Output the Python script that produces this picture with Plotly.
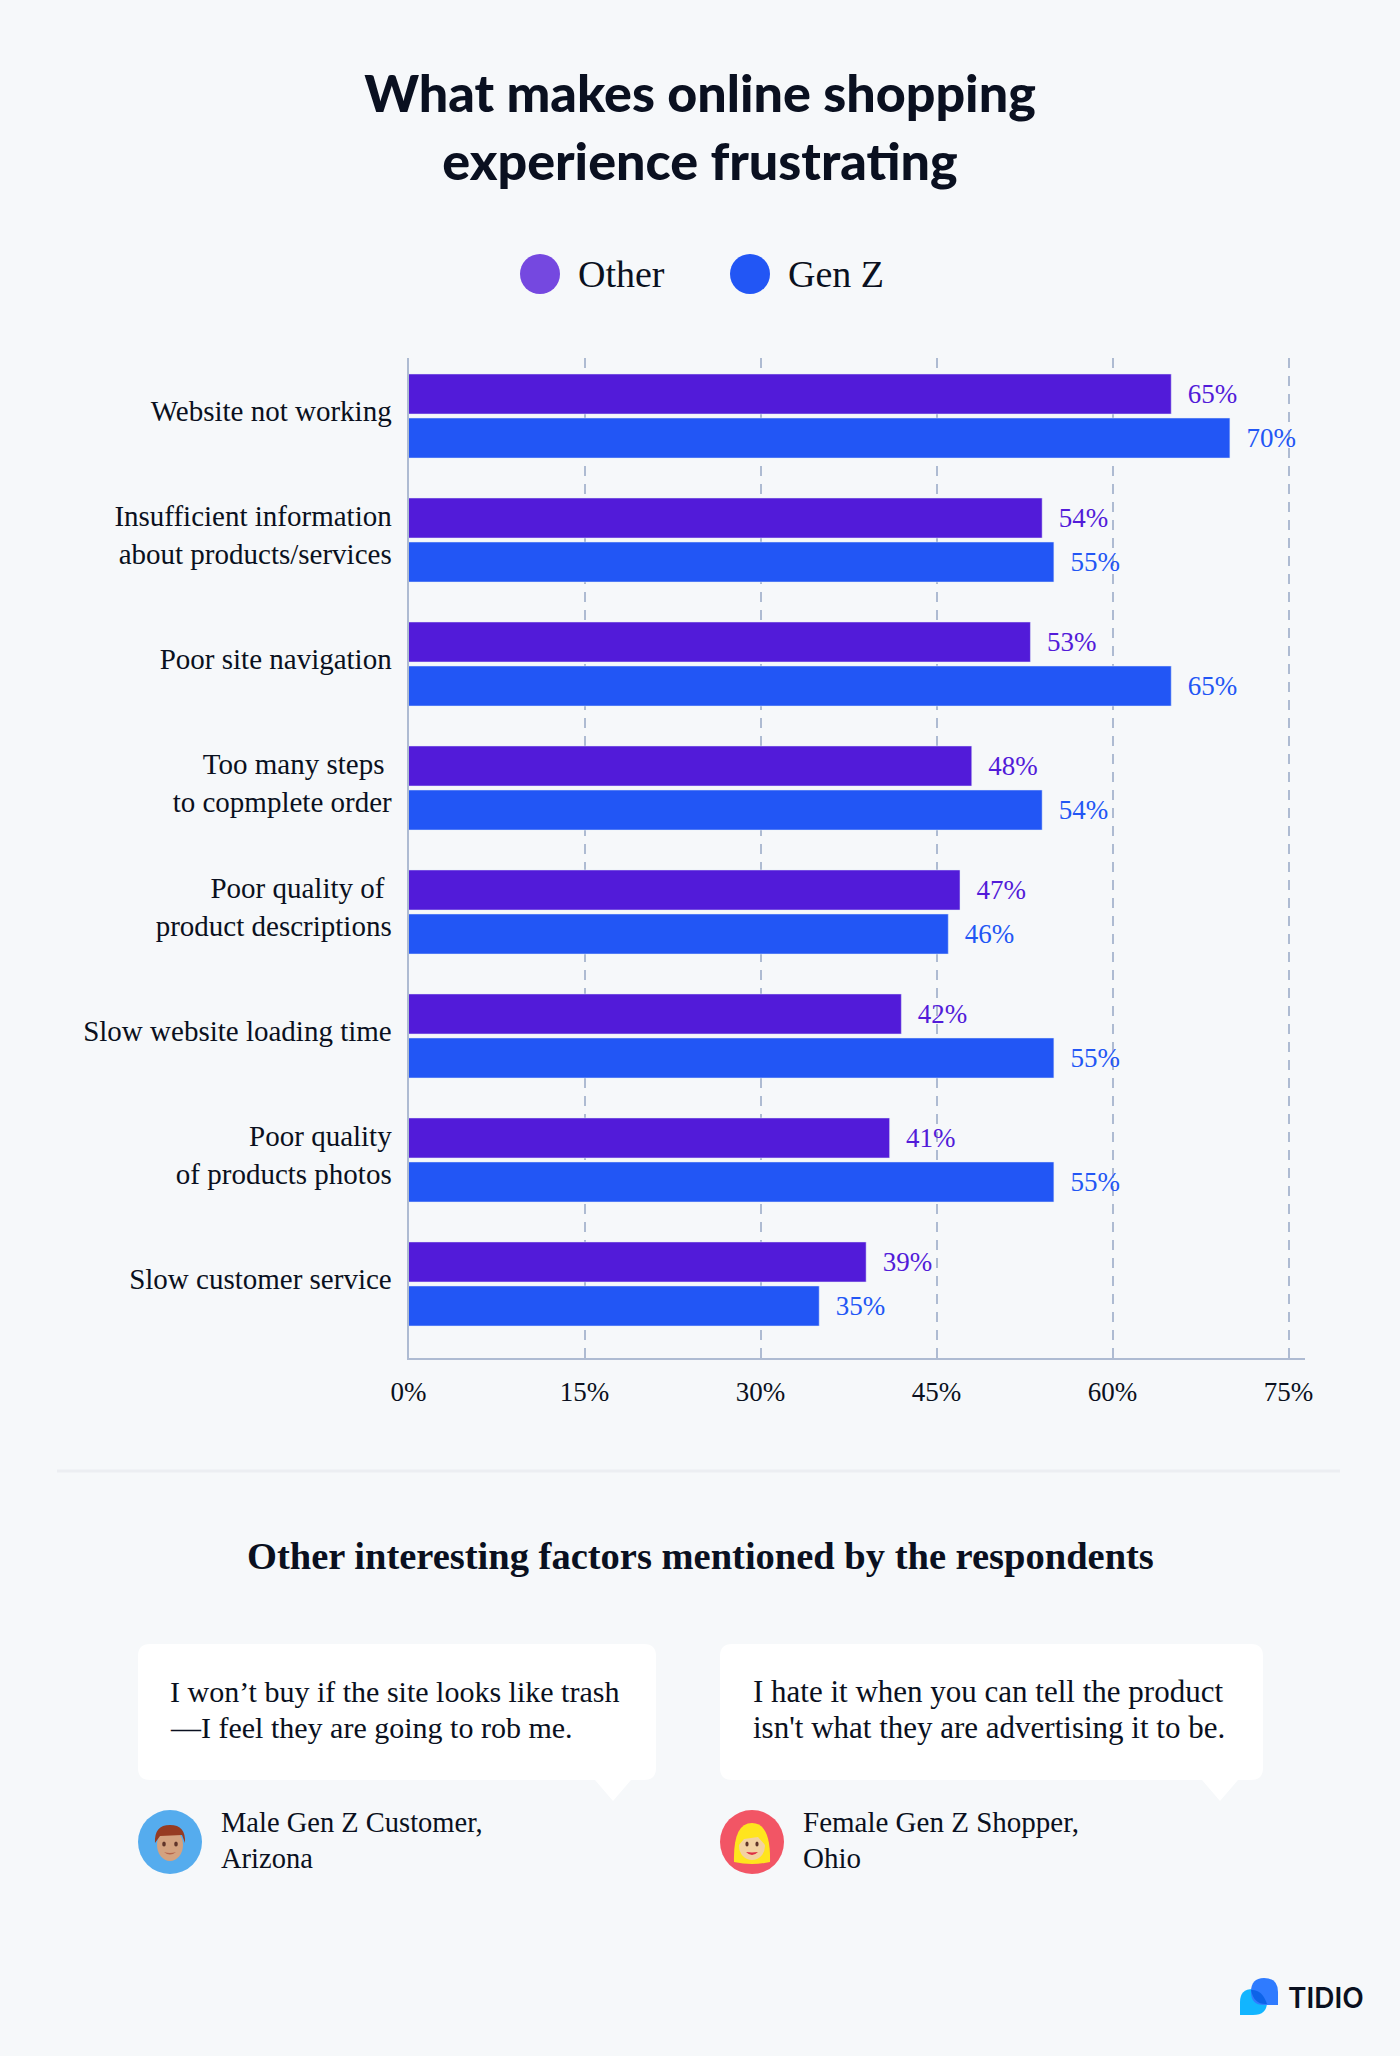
import plotly.graph_objects as go

W = 1400
H = 2056

# chart data
categories = [
    "Website not working",
    "Insufficient information<br>about products/services",
    "Poor site navigation",
    "Too many steps\u00a0<br>to copmplete order",
    "Poor quality of\u00a0<br>product descriptions",
    "Slow website loading time",
    "Poor quality<br>of products photos",
    "Slow customer service",
]
other_values = [65, 54, 53, 48, 47, 42, 41, 39]
genz_values = [70, 55, 65, 54, 46, 55, 55, 35]
x_ticks = [0, 15, 30, 45, 60, 75]
x_tick_labels = ["0%", "15%", "30%", "45%", "60%", "75%"]

BG = "#F6F8FA"
PURPLE = "#521BD9"
BLUE = "#2256F5"
GRID = "#AEBBD2"
INK = "#0A1020"
SERIF = "Liberation Serif"
SANS = "Lato"


def X(px):
    return px / W


def Y(px):
    return 1 - px / H


def path(points):
    # points are pixel pairs or (control, end) for a Q curve
    out = []
    for i, p in enumerate(points):
        if len(p) == 4:
            out.append(f"Q{X(p[0]):.5f},{Y(p[1]):.5f} {X(p[2]):.5f},{Y(p[3]):.5f}")
        else:
            out.append(("M" if i == 0 else "L") + f"{X(p[0]):.5f},{Y(p[1]):.5f}")
    return " ".join(out) + " Z"


def circle(cx, cy, rx, ry, color):
    return dict(type="circle", xref="paper", yref="paper", x0=X(cx - rx), x1=X(cx + rx),
                y0=Y(cy - ry), y1=Y(cy + ry), fillcolor=color, line_width=0)


def shape_path(points, color):
    return dict(type="path", xref="paper", yref="paper", path=path(points), fillcolor=color, line_width=0)


def text(px, py, s, size=28, color=INK, family=SERIF, anchor="left", weight=None):
    return dict(xref="paper", yref="paper", x=X(px), y=Y(py), text=s, showarrow=False,
                xanchor=anchor, yanchor="middle", align=anchor,
                font=dict(family=family, size=size, color=color, weight=weight))


def bubble(x0, x1, tail):
    y0, y1, r = 1644, 1780, 12
    return shape_path([
        (x0 + r, y0), (x1 - r, y0), (x1, y0, x1, y0 + r), (x1, y1 - r), (x1, y1, x1 - r, y1),
        (tail + 18, y1), (tail, 1801), (tail - 18, y1),
        (x0 + r, y1), (x0, y1, x0, y1 - r), (x0, y0 + r), (x0, y0, x0 + r, y0),
    ], "white")


fig = go.Figure()
fig.add_trace(go.Bar(y=categories, x=other_values, orientation="h", name="Other", marker_color=PURPLE,
                     texttemplate="\u00a0\u00a0%{x}%", textposition="outside", cliponaxis=False,
                     textfont=dict(family=SERIF, size=27, color=PURPLE)))
fig.add_trace(go.Bar(y=categories, x=genz_values, orientation="h", name="Gen Z", marker_color=BLUE,
                     texttemplate="\u00a0\u00a0%{x}%", textposition="outside", cliponaxis=False,
                     textfont=dict(family=SERIF, size=27, color=BLUE)))

shapes = [
    circle(540, 274, 20, 20, "#7548E0"),
    circle(750, 274, 20, 20, BLUE),
    dict(type="line", xref="paper", yref="paper", x0=X(57), x1=X(1340), y0=Y(1471), y1=Y(1471),
         line=dict(color="#ECEEF2", width=3)),
    bubble(138, 656, 613),
    bubble(720, 1263, 1220),
    # male avatar
    circle(170, 1842, 32, 32, "#55ACEE"),
    circle(170, 1845, 13, 16, "#D4A27F"),
    shape_path([(155, 1843), (154, 1825, 170, 1825), (186, 1825, 185, 1843), (182, 1835), (160, 1836)], "#963B22"),
    circle(164, 1844, 1.8, 2.5, "#60352A"),
    circle(176, 1844, 1.8, 2.5, "#60352A"),
    shape_path([(164, 1852), (170, 1857, 176, 1852), (170, 1854, 164, 1852)], "#B6654B"),
    # female avatar
    circle(752, 1842, 32, 32, "#F25565"),
    shape_path([(734, 1862), (733, 1823, 752, 1823), (771, 1823, 770, 1862), (752, 1866, 734, 1862)], "#FFE51E"),
    circle(752, 1846, 13, 14, "#F3D2A2"),
    shape_path([(738, 1846), (740, 1830, 752, 1830), (764, 1830, 766, 1846), (758, 1837), (744, 1839)], "#FFE51E"),
    circle(747, 1844, 1.6, 2.5, "#60352A"),
    circle(757, 1844, 1.6, 2.5, "#60352A"),
    shape_path([(746, 1852), (752, 1858, 758, 1852), (752, 1853, 746, 1852)], "#DD2E44"),
    # logo
    shape_path([(1240, 2015), (1240, 2002), (1240, 1989, 1253, 1989), (1267, 1989, 1267, 2002),
                (1267, 2015, 1253, 2015)], "#12B5FF"),
    shape_path([(1278, 2005), (1264, 2005), (1251, 2005, 1251, 1992), (1251, 1978, 1264, 1978),
                (1278, 1978, 1278, 1992)], "#2F7BFF"),
    shape_path([(1251, 1990), (1262, 1989, 1267, 2004), (1254, 2005, 1251, 1990)], "#0D63E8"),
]

annotations = [
    text(576, 274, "Other", size=38),
    text(786, 274, "Gen Z", size=38),
    text(700, 1556, "<b>Other interesting factors mentioned by the respondents</b>", size=38.5, anchor="center"),
    text(168, 1691.5, "I won\u2019t buy if the site looks like trash", size=30),
    text(168, 1727.5, "\u2014I feel they are going to rob me.", size=30),
    text(751, 1691.5, "I hate it when you can tell the product", size=31),
    text(751, 1727.5, "isn't what they are advertising it to be.", size=31),
    text(219, 1822, "Male Gen Z Customer,", size=28.5),
    text(219, 1858, "Arizona", size=28.5),
    text(801, 1822, "Female Gen Z Shopper,", size=29),
    text(801, 1858, "Ohio", size=29),
    text(1286, 1998, "TIDIO", size=28, family="Inter", weight=600),
]

fig.update_layout(
    width=W, height=H, margin=dict(l=0, r=0, t=0, b=0, autoexpand=False),
    paper_bgcolor=BG, plot_bgcolor=BG, showlegend=False,
    barmode="group", bargap=0.29, bargroupgap=0.0909,
    title=dict(text="What makes online shopping<br>experience frustrating", x=0.5, xanchor="center",
               xref="paper", yref="paper", y=Y(112), yanchor="middle",
               font=dict(family=SANS, size=52, color=INK, weight=900)),
    shapes=shapes, annotations=annotations,
)
fig.update_xaxes(domain=[X(408.5), X(1305)], range=[0, 76.4], tickvals=x_ticks, ticktext=x_tick_labels,
                 showgrid=True, gridcolor=GRID, griddash="10px,8px", gridwidth=2, zeroline=False,
                 showline=True, linecolor=GRID, linewidth=2,
                 ticks="outside", ticklen=9, tickcolor="rgba(0,0,0,0)",
                 tickfont=dict(family=SERIF, size=27, color=INK))
fig.update_yaxes(domain=[Y(1358), Y(358)], range=[7.597, -0.468], type="category",
                 showgrid=False, zeroline=False, showline=True, linecolor=GRID, linewidth=2,
                 ticks="outside", ticklen=9, tickcolor="rgba(0,0,0,0)", ticklabelshift=5,
                 tickfont=dict(family=SERIF, size=29, color=INK))

fig.write_html("out.html", config=dict(displayModeBar=False), post_script="document.body.style.margin='0';")
